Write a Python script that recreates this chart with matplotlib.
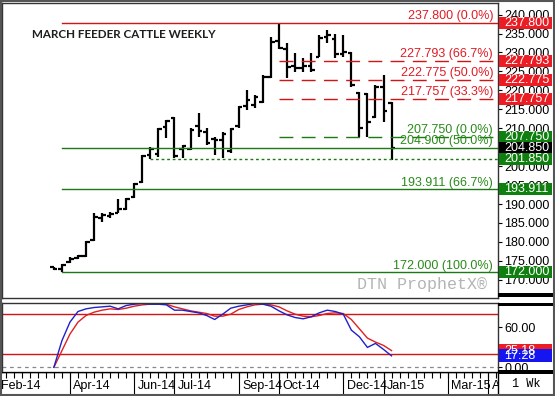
import matplotlib
matplotlib.use("Agg")
import matplotlib.pyplot as plt
import matplotlib.transforms as mtransforms
from matplotlib.patches import Rectangle
import pandas as pd

plt.rcParams['font.family'] = ['Liberation Sans', 'DejaVu Sans']

# ---------------- data ----------------
title = "MARCH FEEDER CATTLE WEEKLY"
start_date = "2014-02-03"          # first weekly slot on the axis
n_weeks = 63
first_bar_week = 7

opens  = [173.3,172.9,174.6,175.8,176.2,180.4,186.2,186.8,187.7,188.7,191.8,195.8,203.0,203.2,210.4,
          212.8,204.6,204.5,210.6,209.0,207.2,206.8,204.0,210.5,216.0,216.2,217.0,223.6,233.0,231.0,
          226.5,226.0,226.5,228.9,234.0,233.5,229.5,229.9,219.3,219.0,213.0,221.0,216.7]
highs  = [173.5,174.2,176.0,176.6,180.3,187.6,187.6,188.0,191.2,191.6,195.6,203.0,205.1,210.0,212.2,
          213.0,205.6,210.0,214.0,210.0,207.8,209.0,210.0,215.9,220.1,218.8,224.0,234.2,237.8,232.4,
          229.8,228.5,229.8,234.6,235.9,235.0,234.6,230.2,219.6,219.2,221.4,224.1,217.0]
lows   = [172.6,172.0,174.4,175.6,176.0,180.2,185.3,186.3,187.6,188.4,191.6,195.6,201.85,202.5,207.4,
          202.2,202.2,204.3,207.8,205.6,203.0,202.2,203.5,210.0,214.8,215.3,216.6,223.2,231.0,223.2,
          224.9,224.9,224.9,228.9,232.4,228.5,228.9,221.0,207.75,207.8,212.6,211.7,201.7]
closes = [172.8,174.0,175.6,176.3,180.1,186.6,187.0,187.4,188.8,191.2,195.2,202.6,204.6,209.7,211.8,
          202.6,205.4,209.6,209.4,206.2,207.0,208.6,209.8,215.6,217.5,218.2,223.5,232.8,231.3,226.2,
          226.0,226.3,225.5,233.9,234.5,229.5,230.2,221.3,210.0,211.7,221.0,214.5,204.85]

stoch_k = [0,40,68,84,88,90,91,92,88,93,95,96,95,95,94,86,86,84,82,78,72,80,89,92,94,96,95,92,
           85,79,75,73,76,82,86,84,80,56,46,30,36,27,17.28]
stoch_d = [0,25,50,68,78,83,86,88,87,89,92,94,95,95,95,91,88,85,83,81,77,77,80,87,91,94,95,94,
           91,85,80,77,76,78,81,82,81,72,58,44,38,33,25.18]

# retracement levels: value, label, colour key, style, starting week
fib_values = [237.800, 227.793, 222.775, 217.757, 207.750, 204.900, 193.911, 172.000]
fib_labels = ["237.800 (0.0%)", "227.793 (66.7%)", "222.775 (50.0%)", "217.757 (33.3%)",
              "207.750 (0.0%)", "204.900 (50.0%)", "193.911 (66.7%)", "172.000 (100.0%)"]
fib_kind   = ["red", "red", "red", "red", "green", "green", "green", "green"]
fib_style  = ["solid", "dashed", "dashed", "dashed", "dashed", "solid", "solid", "solid"]
fib_start  = [8, 35, 35, 35, 35, 8, 8, 8]

support_value = 201.850
support_start = 19

box_values = [237.800, 227.793, 222.775, 217.757, 207.750, 204.850, 201.850, 193.911, 172.000]
box_kind   = ["red", "red", "red", "red", "green", "black", "green", "green", "green"]

price_ticks = [170, 175, 180, 185, 190, 195, 200, 205, 210, 215, 220, 225, 230, 235, 240]
stoch_ticks = [0, 60]
stoch_levels = [80, 20]
month_labels = ["Feb-14", "Apr-14", "Jun-14", "Jul-14", "Sep-14", "Oct-14", "Dec-14",
                "Jan-15", "Mar-15", "Apr-15"]

# ---------------- styling ----------------
RED = "#d21414"
RED_TXT = "#e01b24"
GREEN = "#1c7a14"
GREEN_TXT = "#2a8a1a"
BOX_RED = "#ec1c24"
BOX_GREEN = "#0f7f0f"
BLUE = "#2020c8"
FS = 8.6

W, H = 555, 396
fig = plt.figure(figsize=(W / 100, H / 100), dpi=100)

def fx(px):
    return px / W

def fy(py):
    return 1 - py / H

weeks_all = list(range(n_weeks))
dates = pd.date_range(start_date, periods=n_weeks, freq="W-MON")
bar_weeks = list(range(first_bar_week, first_bar_week + len(closes)))

# main price panel
ax = fig.add_axes([fx(2), fy(298), fx(498) - fx(2), fy(3) - fy(298)])
ax.set_xlim(0.55, 62.24)
ax.set_ylim(165.2, 243.05)
ax.vlines(bar_weeks, lows, highs, color="black", lw=1.6)
ax.hlines(opens, [w - 0.45 for w in bar_weeks], bar_weeks, color="black", lw=1.6)
ax.hlines(closes, bar_weeks, [w + 0.45 for w in bar_weeks], color="black", lw=1.6)

xmax = ax.get_xlim()[1]
tr = mtransforms.blended_transform_factory(ax.transAxes, ax.transData)
for v, lab, kind, sty, st in zip(fib_values, fib_labels, fib_kind, fib_style, fib_start):
    col = RED if kind == "red" else GREEN
    tcol = RED_TXT if kind == "red" else GREEN_TXT
    ls = "-" if sty == "solid" else (0, (10, 6))
    ax.plot([st, xmax], [v, v], color=col, lw=1.0, ls=ls)
    ax.text(0.99, v + 0.15, lab, transform=tr, ha="right", va="bottom", color=tcol, fontsize=FS + 0.4)
ax.plot([support_start, xmax], [support_value, support_value], color=GREEN, lw=1.0, ls=(0, (2, 2)))

fig.text(fx(32), fy(34), title, fontsize=8.4, fontweight="bold", color="#1e1e1e",
         family=["Lato", "DejaVu Sans"], ha="left", va="center")
fig.text(fx(487), fy(285), "DTN ProphetX\u00ae", fontsize=12, color="#b4b4b4",
         family=["Liberation Mono", "DejaVu Sans Mono"], ha="right", va="center")

ax.yaxis.tick_right()
ax.set_yticks(price_ticks)
ax.set_yticklabels([f"{t:.3f}" for t in price_ticks])
ax.tick_params(axis="y", labelsize=FS + 0.4, length=3, pad=1.5, width=0.8)
ax.set_xticks([])
for s in ax.spines.values():
    s.set_color("#333333")
    s.set_linewidth(1.0)

box_h = 3.3
for v, kind in zip(box_values, box_kind):
    fc = {"red": BOX_RED, "green": BOX_GREEN, "black": "black"}[kind]
    ax.add_patch(Rectangle((1.003, v - box_h / 2), 0.106, box_h, transform=tr, facecolor=fc,
                           edgecolor="none", clip_on=False, zorder=5))
    ax.text(1.012, v, f"{v:.3f}", transform=tr, color="white", fontsize=FS + 0.4,
            ha="left", va="center", zorder=6, clip_on=False)

# stochastic panel
ax2 = fig.add_axes([fx(2), fy(372), fx(498) - fx(2), fy(303) - fy(372)])
ax2.set_xlim(0.55, 62.24)
ax2.set_ylim(-7.0, 96.8)
for lv in stoch_levels:
    ax2.axhline(lv, color=RED, lw=1.0)
ax2.axhline(0, color="#888888", lw=0.9, ls=(0, (3, 3)))
ax2.plot(bar_weeks, stoch_d, color="#e02020", lw=1.0)
ax2.plot(bar_weeks, stoch_k, color=BLUE, lw=1.0)
ax2.yaxis.tick_right()
ax2.set_yticks(stoch_ticks)
ax2.set_yticklabels([f"{t:.2f}" for t in stoch_ticks])
ax2.tick_params(axis="y", labelsize=FS + 0.4, length=3, pad=1.5, width=0.8)
ax2.set_xticks([])
for s in ax2.spines.values():
    s.set_color("#333333")
    s.set_linewidth(1.0)
tr2 = mtransforms.blended_transform_factory(ax2.transAxes, ax2.transData)
bh2 = 19.5
for v, fc in [(stoch_d[-1], BOX_RED), (stoch_k[-1], "#1515f0")]:
    ax2.add_patch(Rectangle((1.003, v - bh2 / 2), 0.106, bh2, transform=tr2, facecolor=fc,
                            edgecolor="none", clip_on=False, zorder=5))
    ax2.text(1.012, v, f"{v:.2f}", transform=tr2, color="white", fontsize=FS + 0.4,
             ha="left", va="center", zorder=6, clip_on=False)

# date band
ax3 = fig.add_axes([fx(2), fy(395), fx(498) - fx(2), fy(372) - fy(395)])
ax3.set_xlim(0.55, 62.24)
ax3.set_ylim(0, 1)
ax3.axis("off")
ax3.vlines(weeks_all, 0.72, 1.0, color="black", lw=0.8)
ax3.axhline(1.0, color="black", lw=1.0)
mstr = [d.strftime("%b-%y") for d in dates]
seps = []
for lab in month_labels:
    if lab in mstr:
        seps.append((mstr.index(lab), lab))
for w, lab in seps:
    ax3.vlines(w, 0, 1.0, color="black", lw=0.8)
    t = ax3.text(w, 0.38, lab, ha="left", va="center", fontsize=FS + 0.4,
                 transform=ax3.transData + mtransforms.ScaledTranslation(3.5 / 100, 0, fig.dpi_scale_trans))
    t.set_clip_on(True)
    t.set_clip_box(ax3.bbox)

# right-side decorations
deco = [(498, 293, 57, 4), (498, 303, 57, 3), (498, 370, 57, 4)]
for x0, y0, w0, h0 in deco:
    fig.patches.append(Rectangle((fx(x0), fy(y0 + h0)), w0 / W, h0 / H, transform=fig.transFigure,
                                 facecolor="black", edgecolor="none", zorder=10))
fig.add_artist(plt.Line2D([fx(498), fx(498)], [fy(372), fy(396)], color="black", lw=1.0,
                          transform=fig.transFigure))
fig.text(fx(526), fy(384), "1 Wk", fontsize=FS, ha="center", va="center",
         family=["Liberation Mono", "DejaVu Sans Mono"])
fig.patches.append(Rectangle((0.002, 0.003), 0.996, 0.994, transform=fig.transFigure,
                             facecolor="none", edgecolor="#555555", lw=1.5, zorder=20))

fig.savefig("out.png", dpi=100)
